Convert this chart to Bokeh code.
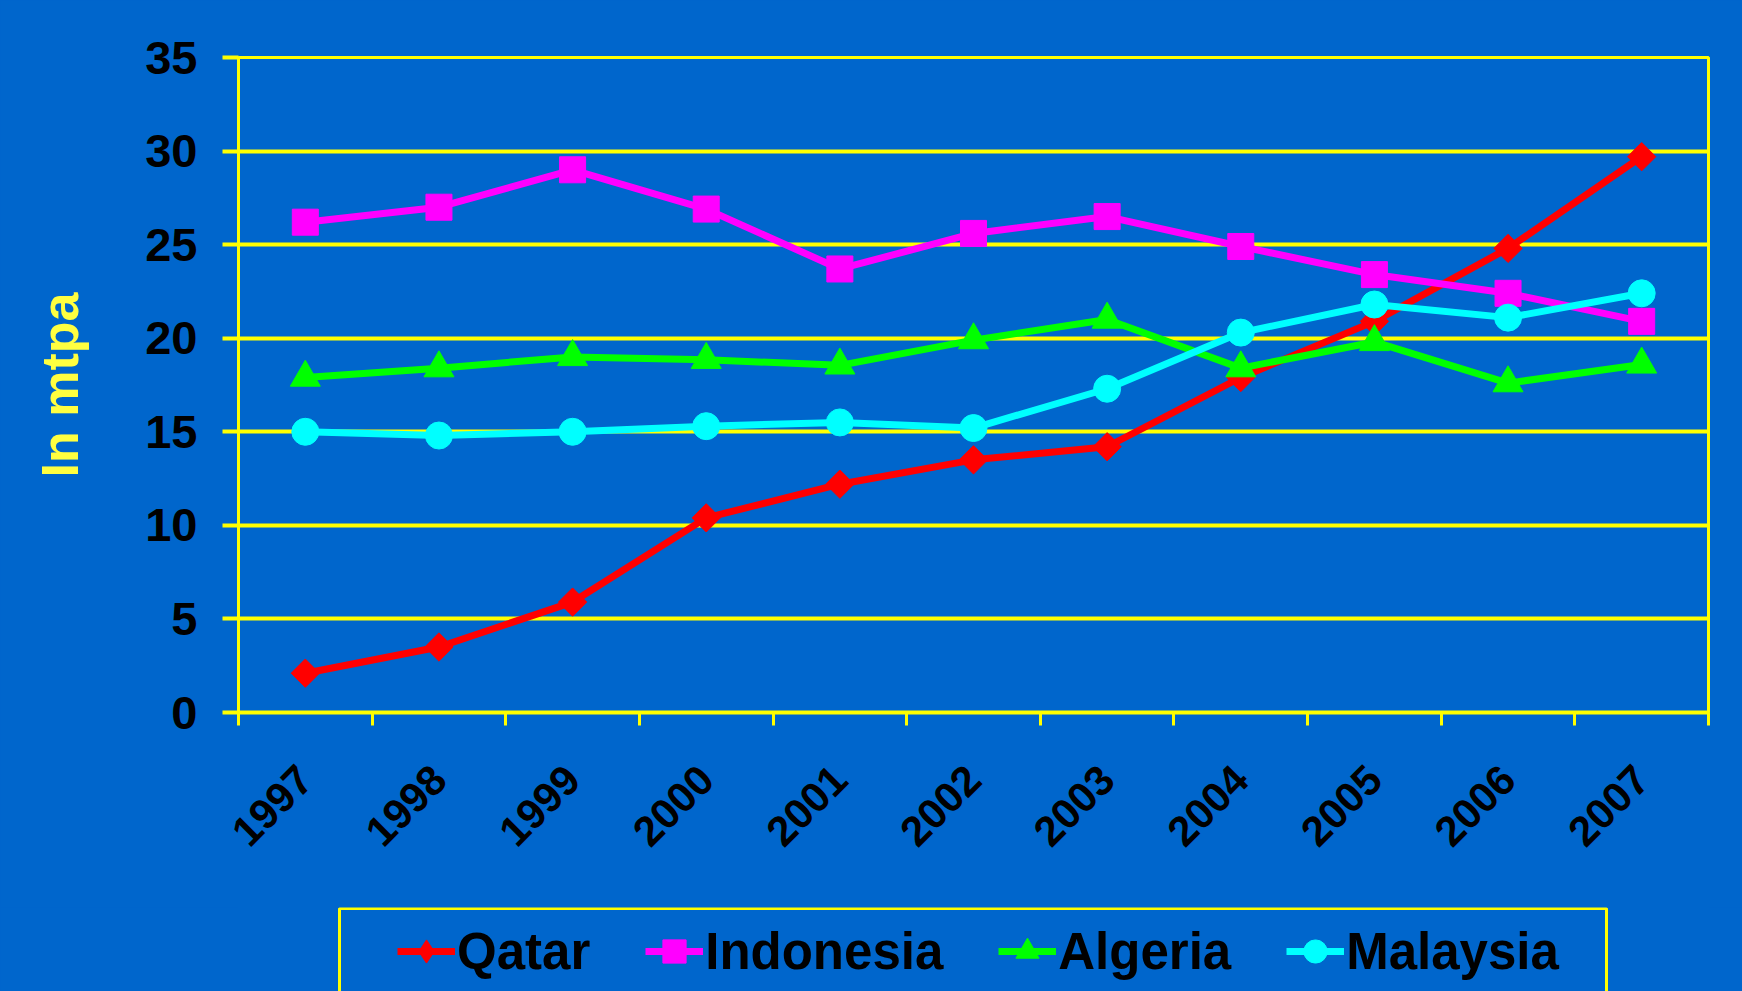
import math
from bokeh.plotting import figure
from bokeh.layouts import column
from bokeh.models import FixedTicker, Legend, LegendItem, Range1d, BoxAnnotation
from bokeh.embed import file_html
from bokeh.resources import INLINE

years = ["1997", "1998", "1999", "2000", "2001", "2002", "2003", "2004", "2005", "2006", "2007"]
qatar = [2.1, 3.5, 5.9, 10.4, 12.2, 13.5, 14.2, 17.9, 20.9, 24.8, 29.7]
indonesia = [26.2, 27.0, 29.0, 26.9, 23.7, 25.6, 26.5, 24.9, 23.4, 22.4, 20.9]
algeria = [17.9, 18.4, 19.0, 18.85, 18.55, 19.9, 21.0, 18.4, 19.8, 17.6, 18.6]
malaysia = [15.0, 14.8, 15.0, 15.3, 15.5, 15.2, 17.3, 20.3, 21.8, 21.1, 22.4]
y_ticks = [0, 5, 10, 15, 20, 25, 30, 35]

BG = "#0066CC"
YEL = "#FFFF00"
FONT = "Liberation Sans"

xc = [i + 0.5 for i in range(len(years))]
bounds = list(range(len(years) + 1))

p = figure(width=1742, height=907, output_backend="svg", toolbar_location=None,
           x_range=Range1d(0, len(years)), y_range=Range1d(0, 35),
           min_border_left=238, min_border_right=34, min_border_top=57, min_border_bottom=195,
           background_fill_color=BG, border_fill_color=BG)

p.outline_line_color = YEL
p.outline_line_width = 3

p.xgrid.grid_line_color = None
p.ygrid.grid_line_color = YEL
p.ygrid.grid_line_width = 4
p.ygrid.ticker = FixedTicker(ticks=y_ticks)

# x axis: labels at category centres, tick marks between categories
p.xaxis.ticker = FixedTicker(ticks=xc, minor_ticks=bounds)
p.xaxis.major_label_overrides = {x: y for x, y in zip(xc, years)}
p.xaxis.major_label_orientation = math.pi / 4
p.xaxis.major_tick_line_color = None
p.xaxis.major_tick_out = 0
p.xaxis.major_tick_in = 0
p.xaxis.minor_tick_line_color = YEL
p.xaxis.minor_tick_line_width = 3
p.xaxis.minor_tick_out = 13
p.xaxis.minor_tick_in = 0
p.xaxis.axis_line_color = YEL
p.xaxis.axis_line_width = 4
p.xaxis.major_label_text_font = FONT
p.xaxis.major_label_text_font_style = "bold"
p.xaxis.major_label_text_font_size = "42px"
p.xaxis.major_label_text_color = "black"
p.xaxis.major_label_standoff = 47

# y axis
p.yaxis.ticker = FixedTicker(ticks=y_ticks)
p.yaxis.axis_line_color = YEL
p.yaxis.axis_line_width = 3
p.yaxis.major_tick_line_color = YEL
p.yaxis.major_tick_line_width = 4
p.yaxis.major_tick_out = 16
p.yaxis.major_tick_in = 0
p.yaxis.minor_tick_line_color = None
p.yaxis.major_label_text_font = FONT
p.yaxis.major_label_text_font_style = "bold"
p.yaxis.major_label_text_font_size = "47px"
p.yaxis.major_label_text_color = "black"
p.yaxis.major_label_standoff = 25
p.yaxis.axis_label = "In mtpa"
p.yaxis.axis_label_text_font = FONT
p.yaxis.axis_label_text_font_style = "bold"
p.yaxis.axis_label_text_font_size = "52px"
p.yaxis.axis_label_text_color = "#FFFF40"
p.yaxis.axis_label_standoff = 53

# legend strip below the chart (same side borders, so the column keeps frames aligned)
lg = figure(width=1742, height=84, output_backend="svg", toolbar_location=None,
            x_range=Range1d(0, 1470), y_range=Range1d(200, 284),
            x_axis_type=None, y_axis_type=None,
            min_border_left=238, min_border_right=34, min_border_top=0, min_border_bottom=0,
            background_fill_color=None, border_fill_color=BG)
lg.outline_line_color = None
lg.add_layout(BoxAnnotation(left=101, right=1368, top=283, bottom=150,
                            fill_alpha=0, fill_color=None,
                            line_color=YEL, line_width=3, line_alpha=1.0))

# name, values, colour, chart marker, size, angle, legend marker
series = [
    ("Qatar", qatar, "#FF0000", "square", 20, math.pi / 4, "diamond"),
    ("Indonesia", indonesia, "#FF00FF", "square", 26, 0, "square"),
    ("Algeria", algeria, "#00FF00", "triangle", 30, 0, "triangle"),
    ("Malaysia", malaysia, "#00FFFF", "circle", 27, 0, "circle"),
]

items = []
for name, vals, col, mk, sz, ang, lmk in series:
    p.line(xc, vals, line_color=col, line_width=7)
    p.scatter(xc, vals, marker=mk, size=sz, angle=ang, fill_color=col, line_color=col)
    r1 = lg.line(xc, vals, line_color=col, line_width=7)
    r2 = lg.scatter(xc, vals, marker=lmk, size=sz, fill_color=col, line_color=col)
    items.append(LegendItem(label=name, renderers=[r1, r2]))

legend = Legend(items=items, orientation="horizontal", location=(159, 10),
                padding=13, spacing=55, margin=0,
                glyph_width=58, glyph_height=60, label_standoff=2,
                label_text_font=FONT, label_text_font_style="bold",
                label_text_font_size="51px", label_text_color="black",
                background_fill_alpha=0, border_line_color=None)
lg.add_layout(legend, "center")

layout = column(p, lg, spacing=0, styles={"background-color": BG})
open("out.html", "w").write(file_html(layout, INLINE))
